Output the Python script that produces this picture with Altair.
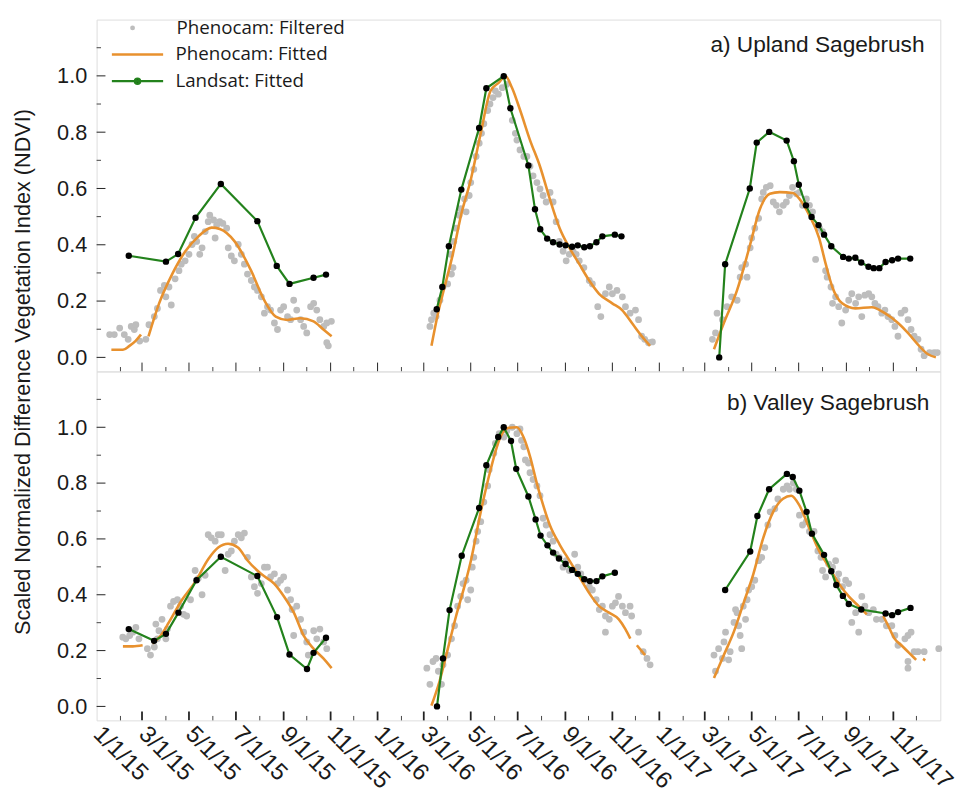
import altair as alt
import pandas as pd

BASE = pd.Timestamp("2015-01-01")

# ---------------- data: (days since 1/1/2015, scaled NDVI) ----------------
# a) Upland sagebrush
UP_GRAY_2015 = [(17,0.081),(23,0.081),(30,0.104),(36,0.081),(41,0.064),(45,0.110),(49,0.099),(51,0.116),(56,0.058),(64,0.064),
    (68,0.116),(75,0.145),(79,0.174),(83,0.238),(88,0.256),(90,0.215),(94,0.250),(97,0.186),(102,0.279),(107,0.308),
    (110,0.331),(115,0.343),(120,0.366),(124,0.401),(127,0.430),(130,0.412),(134,0.366),(137,0.389),(141,0.447),(145,0.482),
    (147,0.505),(152,0.488),(154,0.424),(156,0.470),(160,0.482),(164,0.476),(169,0.459),(171,0.389),(175,0.360),(179,0.343),
    (184,0.401),(188,0.366),(192,0.331),(196,0.296),(201,0.273),(205,0.250),(209,0.238),(214,0.215),(218,0.157),(222,0.180),
    (226,0.168),(231,0.122),(235,0.099),(239,0.168),(243,0.180),(248,0.145),(252,0.134),(256,0.203),(260,0.168),(265,0.134),
    (269,0.110),(273,0.087),(278,0.180),(282,0.192),(286,0.168),(290,0.134),(295,0.110),(299,0.122),(299,0.052),(301,0.041),(305,0.128)]
UP_GRAY_2016 = [(433,0.110),(435,0.134),(438,0.157),(441,0.145),(446,0.203),(450,0.250),(456,0.261),(461,0.296),(463,0.319),(460,0.366),
    (464,0.412),(467,0.459),(471,0.505),(473,0.528),(478,0.563),(480,0.517),(484,0.575),(486,0.621),(490,0.668),(493,0.714),
    (497,0.761),(500,0.796),(503,0.830),(508,0.877),(511,0.900),(515,0.923),(518,0.947),(522,0.935),(527,0.958),(533,0.970),
    (540,0.842),(544,0.796),(546,0.772),(550,0.737),(555,0.714),(559,0.714),(563,0.679),(567,0.645),(572,0.621),(576,0.598),
    (580,0.575),(584,0.552),(589,0.586),(593,0.552),(597,0.482),(601,0.412),(606,0.377),(610,0.343),(614,0.366),(619,0.377),
    (623,0.366),(627,0.343),(633,0.319),(640,0.273),(644,0.261),(651,0.180),(655,0.145),(661,0.226),(666,0.250),(670,0.226),
    (676,0.238),(683,0.215),(687,0.180),(693,0.157),(700,0.168),(704,0.134),(708,0.075),(712,0.064),(717,0.052),(722,0.055)]
UP_GRAY_2017 = [(800,0.064),(804,0.087),(806,0.157),(813,0.134),(819,0.180),(825,0.215),(832,0.203),(836,0.285),(838,0.319),(843,0.331),
    (845,0.285),(849,0.389),(851,0.424),(855,0.459),(860,0.494),(864,0.563),(866,0.586),(870,0.604),(875,0.610),(879,0.552),
    (883,0.540),(887,0.517),(892,0.540),(896,0.552),(900,0.575),(904,0.604),(909,0.581),(913,0.586),(917,0.540),(922,0.563),
    (926,0.540),(930,0.517),(934,0.348),(939,0.459),(943,0.447),(947,0.308),(949,0.285),(954,0.250),(956,0.192),(960,0.215),
    (964,0.180),(968,0.122),(973,0.168),(977,0.203),(981,0.226),(986,0.192),(990,0.215),(994,0.145),(998,0.221),(1003,0.226),
    (1007,0.215),(1011,0.192),(1015,0.180),(1020,0.157),(1024,0.168),(1028,0.145),(1033,0.134),(1037,0.110),(1041,0.075),(1045,0.157),
    (1050,0.168),(1054,0.134),(1058,0.099),(1062,0.075),(1067,0.064),(1071,0.029),(1075,0.006),(1082,0.017),(1088,0.017),(1092,0.017)]

UP_FIT = [
    [(19.2,0.027),(34.2,0.027),(42.7,0.041),(50.4,0.058),(57.6,0.081)],
    [(67.5,0.075),(81.1,0.191),(98.2,0.296),(115.3,0.377),(132.4,0.430),(149.5,0.461),(160.1,0.456),(179.3,0.412),(200.7,0.308),
     (217.8,0.203),(232.7,0.145),(247.7,0.133),(264.7,0.139),(281.8,0.128),(294.6,0.099),(305.3,0.075)],
    [(435,0.041),(443.5,0.157),(452,0.250),(462.7,0.366),(473.4,0.505),(486.2,0.633),(499,0.796),(511.8,0.947),(522.5,0.976),
     (531,0.999),(539.6,0.958),(550.3,0.877),(563,0.772),(575.9,0.679),(588.7,0.563),(601.5,0.459),(614.3,0.389),(627.1,0.331),
     (639.9,0.273),(652.7,0.226),(669.8,0.192),(682.6,0.168),(695.4,0.122),(708.3,0.075),(718.9,0.041)],
    [(802,0.029),(814.8,0.122),(831.9,0.238),(849,0.401),(861.8,0.528),(874.6,0.581),(887.4,0.587),(904.5,0.584),(913,0.563),
     (925.8,0.505),(938.6,0.424),(947.2,0.331),(955.7,0.250),(968.5,0.192),(985.6,0.174),(1006.9,0.178),(1024,0.157),
     (1041.1,0.122),(1053.9,0.087),(1066.7,0.046),(1079.5,0.012),(1090.2,0.000)],
]
UP_LANDSAT = [
    [(41.8,0.361),(90.1,0.340),(105.9,0.367),(128.5,0.496),(161.4,0.616),(208.8,0.484),(234,0.325),(250.6,0.261),(281.8,0.283),(298,0.294)],
    [(441.8,0.171),(449.1,0.250),(457.6,0.395),(473.8,0.596),(496.9,0.815),(506.3,0.956),(528.9,0.999),(537.5,0.885),(560.9,0.682),
     (569.5,0.526),(576.3,0.455),(585.3,0.422),(593,0.409),(601.5,0.401),(609.2,0.398),(617.7,0.393),(625,0.398),(633.5,0.391),
     (640.8,0.395),(649.3,0.409),(657,0.430),(673.2,0.436),(681.8,0.430)],
    [(808.8,0.000),(816.5,0.331),(848.5,0.600),(857.5,0.763),(873.7,0.801),(896.4,0.770),(905.8,0.697),(912.2,0.613),(921.5,0.540),
     (928.8,0.499),(937.8,0.470),(945,0.436),(954.4,0.395),(969.8,0.357),(977.1,0.351),(985.6,0.354),(993.3,0.337),(1002.7,0.322),
     (1009.5,0.317),(1016.8,0.317),(1024.9,0.339),(1033.4,0.345),(1041.1,0.351),(1056.9,0.351)],
]

# b) Valley sagebrush
VA_GRAY_2015 = [(34,0.248),(38,0.242),(43,0.254),(47,0.266),(51,0.283),(55,0.242),(66,0.207),(70,0.184),(75,0.213),(79,0.242),
    (77,0.295),(81,0.271),(85,0.312),(90,0.242),(92,0.277),(96,0.359),(100,0.376),(105,0.382),(109,0.359),(113,0.330),
    (117,0.324),(122,0.382),(128,0.487),(132,0.458),(137,0.400),(141,0.470),(145,0.615),(149,0.604),(154,0.592),(158,0.615),
    (162,0.615),(167,0.487),(171,0.545),(175,0.557),(179,0.592),(184,0.615),(188,0.604),(192,0.621),(196,0.534),(201,0.464),
    (205,0.429),(209,0.405),(214,0.440),(218,0.499),(222,0.499),(226,0.464),(231,0.475),(235,0.440),(239,0.452),(243,0.464),
    (248,0.417),(252,0.382),(254,0.347),(256,0.254),(260,0.359),(265,0.312),(269,0.266),(273,0.231),(275,0.184),(282,0.271),
    (286,0.242),(290,0.277),(295,0.231),(299,0.207)]
VA_GRAY_2016 = [(429,0.137),(433,0.079),(437,0.161),(441,0.172),(444,0.126),(448,0.079),(450,0.149),(456,0.184),(461,0.242),(465,0.289),
    (469,0.359),(473,0.394),(476,0.440),(480,0.452),(482,0.382),(486,0.417),(488,0.499),(490,0.534),(493,0.592),(495,0.627),
    (499,0.662),(503,0.732),(508,0.790),(510,0.848),(516,0.907),(518,0.942),(523,0.977),(529,0.965),(533,0.988),(540,1.000),
    (546,0.977),(550,0.994),(552,0.953),(555,0.930),(557,0.883),(561,0.872),(563,0.837),(567,0.813),(572,0.790),(576,0.755),
    (580,0.674),(584,0.650),(589,0.615),(593,0.592),(597,0.545),(601,0.534),(606,0.499),(610,0.522),(614,0.487),(621,0.545),
    (625,0.499),(629,0.475),(634,0.452),(640,0.429),(644,0.417),(649,0.382),(653,0.347),(657,0.359),(661,0.324),(666,0.312),
    (670,0.359),(674,0.371),(678,0.394),(683,0.359),(687,0.336),(693,0.359),(695,0.324),(704,0.266),(710,0.196),(715,0.172),
    (719,0.149),(661,0.266)]
VA_GRAY_2017 = [(802,0.184),(804,0.126),(808,0.207),(813,0.172),(815,0.231),(817,0.266),(821,0.167),(823,0.196),(828,0.301),(830,0.347),
    (832,0.336),(834,0.289),(836,0.254),(838,0.207),(840,0.359),(843,0.312),(845,0.382),(847,0.417),(851,0.429),(855,0.452),
    (860,0.522),(864,0.534),(868,0.569),(872,0.650),(875,0.697),(881,0.708),(885,0.743),(892,0.778),(897,0.790),(900,0.778),
    (905,0.800),(909,0.778),(913,0.685),(917,0.650),(922,0.662),(926,0.627),(932,0.627),(937,0.557),(941,0.534),(943,0.487),
    (947,0.464),(951,0.510),(956,0.499),(960,0.522),(962,0.452),(964,0.475),(969,0.429),(973,0.452),(977,0.440),(981,0.301),
    (986,0.336),(990,0.266),(994,0.394),(998,0.359),(1003,0.336),(1009,0.347),(1013,0.312),(1020,0.312),(1026,0.289),(1033,0.289),
    (1037,0.254),(1041,0.219),(1050,0.242),(1054,0.254),(1058,0.266),(1062,0.196),(1054,0.161),(1054,0.137),(1067,0.196),(1075,0.196),
    (1094,0.207)]

VA_FIT = [
    [(34.2,0.215),(47,0.215),(59.8,0.219)],
    [(72.6,0.225),(83.3,0.254),(93.9,0.301),(111,0.382),(128.1,0.446),(145.2,0.528),(158,0.569),(170.8,0.583),(183.6,0.569),
     (196.4,0.522),(213.5,0.475),(230.6,0.440),(243.4,0.394),(256.2,0.336),(269,0.254),(281.8,0.207),(294.6,0.172),(305.3,0.137)],
    [(435,0.003),(445.6,0.091),(456.3,0.207),(467,0.324),(477.7,0.429),(486.2,0.522),(499,0.697),(511.8,0.848),(524.6,0.965),
     (535.3,0.998),(546,1.000),(554.5,0.965),(563.1,0.895),(571.6,0.802),(580.2,0.720),(588.7,0.650),(601.5,0.580),(614.3,0.522),
     (627.1,0.464),(639.9,0.406),(652.7,0.359),(665.6,0.336),(678.4,0.312),(686.9,0.277),(693.3,0.243)],
    [(701.8,0.219),(712.5,0.184)],
    [(802,0.102),(814.8,0.184),(827.6,0.266),(840.4,0.370),(853.2,0.475),(866,0.604),(878.9,0.697),(891.7,0.744),(902.3,0.755),
     (913,0.720),(925.8,0.638),(938.6,0.557),(951.4,0.499),(964.3,0.440),(977.1,0.394),(989.9,0.359),(1000.5,0.330)],
    [(1021.9,0.324),(1028.3,0.289),(1036.8,0.242),(1045.4,0.219),(1056.1,0.190),(1064.6,0.167)],
    [(1073.5,0.170),(1076.5,0.165)],
]
VA_LANDSAT = [
    [(41.8,0.277),(74.7,0.235),(90.1,0.260),(106.3,0.336),(129.8,0.452),(161.4,0.536),(208.8,0.467),(234.4,0.320),(250.6,0.186),
     (273.3,0.134),(281.8,0.192),(298,0.246)],
    [(442.2,0.000),(449.9,0.172),(458.5,0.345),(474.3,0.540),(496.9,0.711),(506.3,0.864),(521.7,0.965),(528.9,1.000),(538.3,0.951),
     (545.1,0.851),(560.9,0.752),(570.3,0.670),(576.7,0.612),(585.7,0.577),(593,0.551),(600.6,0.530),(609.2,0.510),(617.7,0.489),
     (625,0.475),(633.5,0.456),(640.8,0.449),(649.3,0.449),(657,0.466),(673.2,0.479)],
    [(816.5,0.417),(849,0.555),(858.4,0.682),(873.6,0.778),(896.7,0.833),(904.3,0.822),(912.9,0.773),(922.3,0.697),(929.2,0.619),
     (945,0.543),(954.4,0.484),(960.8,0.435),(969.4,0.396),(977.1,0.367),(993.3,0.347),(1024.9,0.333),(1033.4,0.327),
     (1041.1,0.338),(1057.3,0.353)],
]

# axis ticks / labels
LABEL_MONTHS = [(2015,1),(2015,3),(2015,5),(2015,7),(2015,9),(2015,11),(2016,1),(2016,3),(2016,5),
                (2016,7),(2016,9),(2016,11),(2017,1),(2017,3),(2017,5),(2017,7),(2017,9),(2017,11)]
MINOR_MONTHS = [(2015,2),(2015,4),(2015,6),(2015,8),(2015,10),(2015,12),(2016,2),(2016,4),(2016,6),
                (2016,8),(2016,10),(2016,12),(2017,2),(2017,4),(2017,6),(2017,8),(2017,10),(2017,12)]
Y_MAJOR = [0.0, 0.2, 0.4, 0.6, 0.8, 1.0]
Y_MINOR = [0.1, 0.3, 0.5, 0.7, 0.9, 1.1]

SERIES = ["Phenocam: Filtered", "Phenocam: Fitted", "Landsat: Fitted"]
PANEL_LABELS = ["a) Upland Sagebrush", "b) Valley Sagebrush"]
Y_TITLE = "Scaled Normalized Difference Vegetation Index (NDVI)"

GRAY = "#BDBDBD"
ORANGE = "#E8912E"
GREEN = "#23821C"
AXIS_FONT = "Liberation Sans"
LEG_FONT = "Open Sans"

W = 856
H_TOP = 357
H_BOT = 354


def to_df(segments, series):
    rows = []
    for seg, pairs in enumerate(segments):
        for d, v in pairs:
            rows.append({"date": BASE + pd.Timedelta(days=d), "ndvi": v, "seg": seg, "series": series})
    return pd.DataFrame(rows)


x_scale = alt.Scale(domain=[alt.DateTime(year=2015, month=1, date=1),
                            alt.DateTime(year=2018, month=1, date=1)])
y_scale = alt.Scale(domain=[-0.05, 1.2], nice=False, zero=False)


def xenc(show):
    if show:
        ax = alt.Axis(values=[alt.DateTime(year=y, month=m, date=1) for y, m in LABEL_MONTHS],
                      labelExpr="timeFormat(datum.value, '%-m/%-d/%y')",
                      labelAngle=45, labelAlign="left", labelBaseline="middle",
                      labelPadding=10, ticks=False, domain=False, grid=False, title=None,
                      labelFont=AXIS_FONT, labelFontSize=24, labelColor="#1a1a1a",
                      labelOverlap=False, labelFlush=False, labelBound=False)
    else:
        ax = None
    return alt.X("date:T", scale=x_scale, axis=ax)


def yenc(with_title):
    kw = dict(values=Y_MAJOR, format=".1f", ticks=False, domain=False, grid=False,
              labelPadding=10, labelFont=AXIS_FONT, labelFontSize=22, labelColor="#1a1a1a")
    if with_title:
        kw.update(title=Y_TITLE, titleFont=AXIS_FONT, titleFontSize=22, titleFontWeight="normal",
                  titleColor="#1a1a1a", titleX=-75, titleY=H_TOP, titleAlign="center",
                  titleBaseline="middle", titleAngle=270)
    else:
        kw.update(title=None)
    return alt.Y("ndvi:Q", scale=y_scale, axis=alt.Axis(**kw))


def panel(gray, fit, landsat, label, height, top):
    X = xenc(not top)
    Y = yenc(top)
    gdf = to_df(gray, SERIES[0])
    fdf = to_df(fit, SERIES[1])
    ldf = to_df(landsat, SERIES[2])

    leg = dict(orient="none", title=None, padding=0, labelFont=LEG_FONT, labelFontSize=19,
               labelColor="#1a1a1a", labelLimit=0)
    if top:
        c_gray = alt.Color("series:N", scale=alt.Scale(domain=[SERIES[0]], range=[GRAY]),
                           legend=alt.Legend(symbolType="circle", symbolSize=24, labelOffset=35,
                                             legendX=27, legendY=-1, **leg))
        c_fit = alt.Color("series:N", scale=alt.Scale(domain=[SERIES[1]], range=[ORANGE]),
                          legend=alt.Legend(symbolType="stroke", symbolSize=2704, symbolStrokeWidth=2.6,
                                            labelOffset=11, legendX=14, legendY=8, **leg))
        c_ls = alt.Color("series:N", scale=alt.Scale(domain=[SERIES[2]], range=[GREEN]),
                         legend=alt.Legend(symbolType="M-1,0H1M0.1,0A0.1,0.1,0,1,1,-0.1,0A0.1,0.1,0,1,1,0.1,0Z",
                                           symbolSize=2704, symbolStrokeWidth=2.4, symbolFillColor="black",
                                           labelOffset=11, legendX=14, legendY=35, **leg))
    else:
        c_gray = alt.value(GRAY)
        c_fit = alt.value(ORANGE)
        c_ls = alt.value(GREEN)

    pts = alt.Chart(gdf).mark_circle(size=48, opacity=1).encode(x=X, y=Y, color=c_gray)
    fit_line = alt.Chart(fdf).mark_line(strokeWidth=2.6, interpolate="monotone").encode(
        x=X, y=Y, color=c_fit, detail="seg:N")
    ls_line = alt.Chart(ldf).mark_line(strokeWidth=2.2).encode(x=X, y=Y, color=c_ls, detail="seg:N")
    ls_pts = alt.Chart(ldf).mark_circle(size=42, color="black", opacity=1).encode(x=X, y=Y)

    major = pd.DataFrame({"date": [pd.Timestamp(y, m, 1) for y, m in LABEL_MONTHS[1:]]})
    minor = pd.DataFrame({"date": [pd.Timestamp(y, m, 1) for y, m in MINOR_MONTHS]})
    tw = 1.0 if top else 1.8
    xt_major = alt.Chart(major).mark_rule(color="#222", strokeWidth=tw).encode(
        x=X, y=alt.value(height), y2=alt.value(height - 9))
    xt_minor = alt.Chart(minor).mark_rule(color="#444", strokeWidth=1).encode(
        x=X, y=alt.value(height), y2=alt.value(height - 4.5))
    ymaj = pd.DataFrame({"ndvi": Y_MAJOR})
    ymin = pd.DataFrame({"ndvi": Y_MINOR})
    yt_major = alt.Chart(ymaj).mark_rule(color="#222", strokeWidth=1).encode(
        y=Y, x=alt.value(0), x2=alt.value(9))
    yt_minor = alt.Chart(ymin).mark_rule(color="#444", strokeWidth=1).encode(
        y=Y, x=alt.value(0), x2=alt.value(4.5))

    txt = alt.Chart(pd.DataFrame({"label": [label]})).mark_text(
        align="right", baseline="middle", font=AXIS_FONT, fontSize=23, color="#1a1a1a").encode(
        x=alt.value(840 if top else 845), y=alt.value(26 if top else 32), text="label:N")

    layer = alt.layer(pts, fit_line, ls_line, ls_pts, xt_major, xt_minor, yt_major, yt_minor, txt)
    if top:
        layer = layer.resolve_scale(color="independent")
    return layer.properties(width=W, height=height)


top = panel([UP_GRAY_2015, UP_GRAY_2016, UP_GRAY_2017], UP_FIT, UP_LANDSAT, PANEL_LABELS[0], H_TOP, True)
bottom = panel([VA_GRAY_2015, VA_GRAY_2016, VA_GRAY_2017], VA_FIT, VA_LANDSAT, PANEL_LABELS[1], H_BOT, False)

chart = alt.vconcat(top, bottom, spacing=0, bounds="flush").properties(
    padding={"left": 11, "top": 12, "right": 5, "bottom": 5},
    background="white",
).configure_view(stroke="#4a4a4a", strokeWidth=1.5).configure(font=AXIS_FONT)

chart.save("out.html", embed_options={"renderer": "svg", "actions": False})
